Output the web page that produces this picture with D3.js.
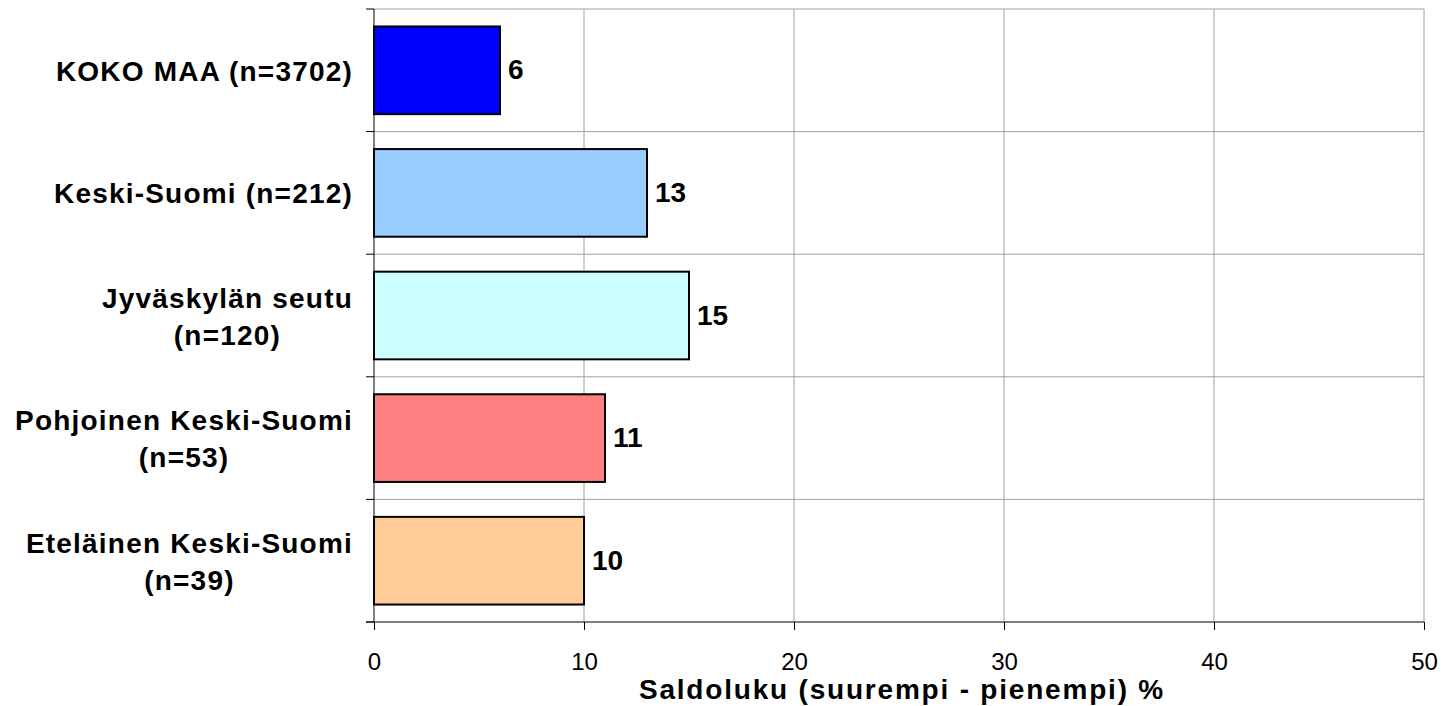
<!DOCTYPE html>
<html><head><meta charset="utf-8">
<script src="https://cdn.jsdelivr.net/npm/d3@7"></script>
<style>
html,body{margin:0;padding:0;background:#fff;}
svg{display:block;font-family:Arial,"Liberation Sans",sans-serif;}
</style></head>
<body>
<svg id="c" width="1444" height="706"></svg>
<script>
const categories = [["KOKO MAA (n=3702)"],["Keski-Suomi (n=212)"],["Jyväskylän seutu","(n=120)"],["Pohjoinen Keski-Suomi","(n=53)"],["Eteläinen Keski-Suomi","(n=39)"]];
const values = [6, 13, 15, 11, 10];
const colors = ["#0000FF","#99CCFF","#CCFFFF","#FF8080","#FFCC99"];
const xTicks = [0,10,20,30,40,50];
const xTitle = "Saldoluku (suurempi - pienempi) %";

const svg = d3.select("#c");
const L = 374, R = 1424, T = 9, B = 622;
const x = d3.scaleLinear().domain([0,50]).range([L,R]);
const y = d3.scaleBand().domain(d3.range(categories.length)).range([T,B]).paddingInner(0.285).paddingOuter(0.1425);

// grid
svg.append("g").selectAll("line").data(xTicks.slice(1)).join("line")
  .attr("x1",d=>x(d)).attr("x2",d=>x(d)).attr("y1",T).attr("y2",B)
  .attr("stroke","#a0a0a0").attr("stroke-width",1);
const bounds = d3.range(categories.length+1).map(i=>T+(B-T)*i/categories.length);
svg.append("g").selectAll("line").data(bounds.slice(0,-1)).join("line")
  .attr("x1",L).attr("x2",R).attr("y1",d=>d).attr("y2",d=>d)
  .attr("stroke","#a0a0a0").attr("stroke-width",1);

// bars
svg.append("g").selectAll("rect").data(values).join("rect")
  .attr("x",x(0)).attr("y",(d,i)=>y(i)).attr("width",d=>x(d)-x(0)).attr("height",y.bandwidth())
  .attr("fill",(d,i)=>colors[i]).attr("stroke","#000").attr("stroke-width",2);

// value labels
svg.append("g").selectAll("text").data(values).join("text")
  .attr("x",d=>x(d)+8).attr("y",(d,i)=>y(i)+y.bandwidth()/2+9)
  .attr("font-size",28).attr("font-weight","bold").text(d=>d);

// axes
const xa = svg.append("g").attr("transform",`translate(0,${B})`)
  .call(d3.axisBottom(x).tickValues(xTicks).tickSize(8).tickPadding(23).tickFormat(d3.format("d")));
xa.select(".domain").attr("stroke","#000").attr("d",`M${L-8},0H${R}`);
xa.selectAll(".tick line").attr("stroke","#000");
xa.selectAll("text").attr("font-size",24).attr("font-family","Arial,'Liberation Sans',sans-serif").attr("fill","#000");

const ya = svg.append("g");
ya.append("line").attr("x1",L).attr("x2",L).attr("y1",T).attr("y2",B).attr("stroke","#000").attr("stroke-width",1);
ya.selectAll("line.t").data(bounds).join("line").attr("class","t")
  .attr("x1",L-8).attr("x2",L).attr("y1",d=>d).attr("y2",d=>d).attr("stroke","#000");

// category labels
const labRight = 353;
categories.forEach((lines,i)=>{
  const cy = T+(B-T)*(i+0.5)/categories.length;
  const lh = 37;
  const g = svg.append("g");
  const texts = lines.map((s,j)=>g.append("text").attr("font-size",28).attr("font-weight","bold")
     .attr("letter-spacing","1.2px")
     .attr("y", cy + 10.5 + (j-(lines.length-1)/2)*lh).text(s));
  const widths = texts.map(t=>t.node().getComputedTextLength());
  const W = d3.max(widths);
  const cx = labRight - W/2;
  texts.forEach(t=>t.attr("x",cx).attr("text-anchor","middle"));
});

// x title
svg.append("text").attr("x",(L+R)/2+3).attr("y",699).attr("text-anchor","middle")
  .attr("font-size",28).attr("font-weight","bold").attr("letter-spacing","1.8px").text(xTitle);
</script>
</body></html>
